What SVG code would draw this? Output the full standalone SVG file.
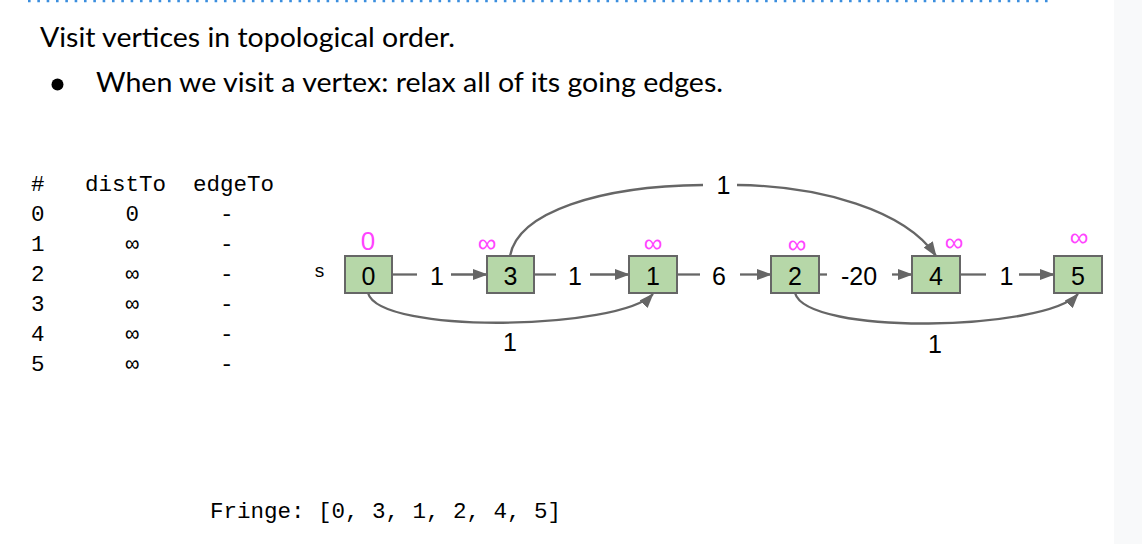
<svg xmlns="http://www.w3.org/2000/svg" width="1142" height="544" viewBox="0 0 1142 544">
<style>
.hdr{font-family:Lato,"Open Sans","Liberation Sans",sans-serif;font-size:27px;fill:#000}
.mono{font-family:"Liberation Mono","DejaVu Sans Mono",monospace;font-size:22.5px;fill:#000}
.box{fill:#b6d7a8;stroke:#666;stroke-width:2}
.nl{font-family:"Liberation Sans",Arial,sans-serif;font-size:25px;fill:#000;text-anchor:middle}
.el{font-family:"Liberation Sans",Arial,sans-serif;font-size:25px;fill:#000;text-anchor:middle}
.pk{font-family:"Liberation Sans",Arial,sans-serif;font-size:26px;fill:#ff44ff;text-anchor:middle}
.ed{fill:none;stroke:#666;stroke-width:2.3}
.ar{marker-end:url(#ah)}
</style>
<defs>
<marker id="ah" viewBox="0 0 15 11" refX="14" refY="5.5" markerWidth="15" markerHeight="11" markerUnits="userSpaceOnUse" orient="auto">
<path d="M0,0 L15,5.5 L0,11 z" fill="#666"/>
</marker>
</defs>
<rect x="0" y="0" width="1142" height="544" fill="#fff"/>
<rect x="1114" y="0" width="28" height="544" fill="#f8f9fa"/>
<line x1="28" y1="1" x2="1053" y2="1" stroke="#3b8ede" stroke-width="2.6" stroke-dasharray="2.6 6.73"/>

<g id="header">
<text class="hdr" x="40" y="47" textLength="415" lengthAdjust="spacingAndGlyphs">Visit vertices in topological order.</text>
<circle cx="57.5" cy="84.5" r="6" fill="#000"/>
<text class="hdr" x="96" y="92" textLength="627" lengthAdjust="spacingAndGlyphs">When we visit a vertex: relax all of its going edges.</text>
</g>

<g id="table" class="mono">
<text x="31" y="191">#</text><text x="85" y="191">distTo</text><text x="193" y="191">edgeTo</text>
<text x="31" y="221">0</text><text x="125.5" y="221">0</text><text x="220" y="221">-</text>
<text x="31" y="251">1</text><text x="125.5" y="251">∞</text><text x="220" y="251">-</text>
<text x="31" y="281">2</text><text x="125.5" y="281">∞</text><text x="220" y="281">-</text>
<text x="31" y="311">3</text><text x="125.5" y="311">∞</text><text x="220" y="311">-</text>
<text x="31" y="341">4</text><text x="125.5" y="341">∞</text><text x="220" y="341">-</text>
<text x="31" y="371">5</text><text x="125.5" y="371">∞</text><text x="220" y="371">-</text>
</g>

<g id="connectors">
<line class="ed" x1="392" y1="274.5" x2="417" y2="274.5"/>
<line class="ed ar" x1="451" y1="274.5" x2="487" y2="274.5"/>
<line class="ed" x1="534" y1="274.5" x2="556" y2="274.5"/>
<line class="ed ar" x1="590" y1="274.5" x2="629" y2="274.5"/>
<line class="ed" x1="677" y1="274.5" x2="700" y2="274.5"/>
<line class="ed ar" x1="740" y1="274.5" x2="771" y2="274.5"/>
<line class="ed" x1="819" y1="274.5" x2="827" y2="274.5"/>
<line class="ed ar" x1="892" y1="274.5" x2="912" y2="274.5"/>
<line class="ed" x1="960" y1="274.5" x2="986" y2="274.5"/>
<line class="ed ar" x1="1019" y1="274.5" x2="1054" y2="274.5"/>
<path class="ed" d="M510,256 C518,212 600,186 703,185"/>
<path class="ed ar" d="M737,185 C820,186 905,210 936,256"/>
<path class="ed ar" d="M368,293 C380,335 620,330 653,294"/>
<path class="ed ar" d="M795,293 C807,336 1045,331 1078,294"/>
<text class="el" x="437" y="285">1</text>
<text class="el" x="575" y="285">1</text>
<text class="el" x="719" y="285">6</text>
<text class="el" x="859" y="285">-20</text>
<text class="el" x="1006.5" y="285">1</text>
<text class="el" x="723.5" y="194">1</text>
<text class="el" x="510" y="351">1</text>
<text class="el" x="935" y="353">1</text>
</g>

<text x="319.5" y="277" font-family="'Liberation Sans',Arial,sans-serif" font-size="19" text-anchor="middle">s</text>

<g id="node0">
<rect class="box" x="345" y="256" width="47" height="37"/>
<text class="nl" x="368.5" y="285">0</text>
<text class="pk" x="368" y="249.5" font-size="25">0</text>
</g>
<g id="node3">
<rect class="box" x="487" y="256" width="47" height="37"/>
<text class="nl" x="510.5" y="285">3</text>
<text class="pk" x="487" y="252">∞</text>
</g>
<g id="node1">
<rect class="box" x="629" y="256" width="48" height="37"/>
<text class="nl" x="653" y="285">1</text>
<text class="pk" x="653" y="252">∞</text>
</g>
<g id="node2">
<rect class="box" x="771" y="256" width="48" height="37"/>
<text class="nl" x="795" y="285">2</text>
<text class="pk" x="797" y="252.5">∞</text>
</g>
<g id="node4">
<rect class="box" x="912" y="256" width="48" height="37"/>
<text class="nl" x="936" y="285">4</text>
<text class="pk" x="954" y="250.5">∞</text>
</g>
<g id="node5">
<rect class="box" x="1054" y="256" width="48" height="37"/>
<text class="nl" x="1078" y="285">5</text>
<text class="pk" x="1079" y="245.5">∞</text>
</g>

<text class="mono" x="210" y="518">Fringe: [0, 3, 1, 2, 4, 5]</text>
</svg>
